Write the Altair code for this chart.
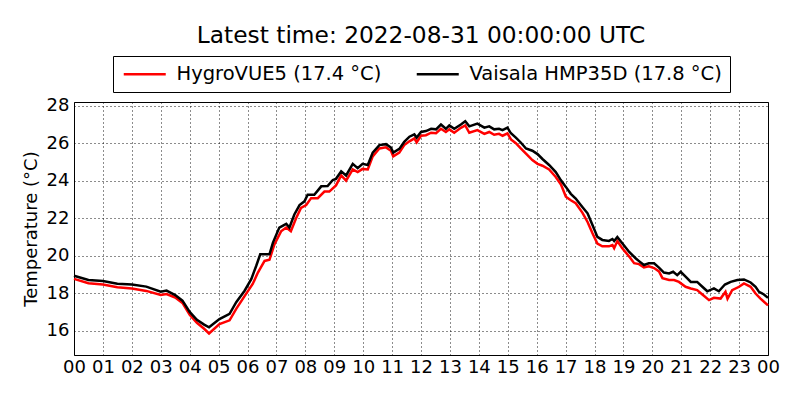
import altair as alt
import pandas as pd

title_text = "Latest time: 2022-08-31 00:00:00 UTC"
label_hygro = "HygroVUE5 (17.4 °C)"
label_vais = "Vaisala HMP35D (17.8 °C)"

vais_hours = [0, 0.5, 1, 1.5, 2, 2.5, 3, 3.2, 3.5, 3.75, 4, 4.25, 4.5, 4.67, 5.03, 5.38, 5.61, 5.9,
              6.13, 6.3, 6.44, 6.76, 6.88, 7.1, 7.34, 7.45, 7.62, 7.8, 7.97, 8.08, 8.31, 8.55, 8.77,
              8.95, 9.06, 9.24, 9.41, 9.64, 9.81, 9.98, 10.16, 10.33, 10.56, 10.79, 10.96, 11.04,
              11.25, 11.42, 11.6, 11.77, 11.85, 12.0, 12.17, 12.35, 12.52, 12.69, 12.86, 12.98,
              13.15, 13.38, 13.53, 13.67, 13.95, 14.19, 14.36, 14.53, 14.7, 14.82, 14.99, 15.11,
              15.28, 15.45, 15.63, 15.85, 16.03, 16.2, 16.43, 16.66, 16.84, 17.01, 17.18, 17.35,
              17.58, 17.76, 17.93, 18.1, 18.27, 18.5, 18.62, 18.68, 18.79, 18.96, 19.2, 19.43,
              19.54, 19.71, 19.88, 20.06, 20.23, 20.4, 20.58, 20.72, 20.86, 20.98, 21.15, 21.33,
              21.55, 21.73, 21.9, 22.13, 22.3, 22.51, 22.71, 22.94, 23.17, 23.4, 23.57, 23.69,
              23.86, 24.0]
vais_temp = [18.93, 18.7, 18.65, 18.5, 18.46, 18.35, 18.08, 18.14, 17.9, 17.6, 17.0, 16.58, 16.32,
             16.18, 16.62, 16.9, 17.52, 18.13, 18.75, 19.45, 20.07, 20.07, 20.7, 21.5, 21.7, 21.5,
             22.2, 22.7, 22.9, 23.25, 23.25, 23.7, 23.72, 24.04, 24.1, 24.5, 24.28, 24.9, 24.67,
             24.9, 24.84, 25.5, 25.9, 25.95, 25.77, 25.5, 25.7, 26.07, 26.35, 26.47, 26.3, 26.6,
             26.65, 26.77, 26.74, 27.0, 26.77, 26.95, 26.77, 27.0, 27.17, 26.9, 27.05, 26.83, 26.9,
             26.74, 26.77, 26.7, 26.83, 26.53, 26.3, 26.04, 25.72, 25.6, 25.42, 25.16, 24.84,
             24.46, 24.02, 23.67, 23.3, 23.05, 22.6, 22.26, 21.64, 21.0, 20.84, 20.79, 20.89,
             20.78, 21.0, 20.66, 20.2, 19.85, 19.71, 19.5, 19.59, 19.59, 19.36, 19.1, 19.05,
             19.14, 18.96, 19.14, 18.88, 18.6, 18.6, 18.34, 18.1, 18.25, 18.1, 18.46, 18.6, 18.7,
             18.73, 18.57, 18.34, 18.07, 17.93, 17.75]

hygro_hours = [0, 0.5, 1, 1.5, 2, 2.5, 3, 3.2, 3.5, 3.75, 4, 4.25, 4.5, 4.67, 5.03, 5.38, 5.61,
               5.95, 6.18, 6.36, 6.59, 6.76, 6.93, 7.16, 7.34, 7.5, 7.68, 7.85, 8.03, 8.2, 8.43,
               8.66, 8.83, 9.06, 9.24, 9.41, 9.64, 9.81, 9.98, 10.16, 10.33, 10.56, 10.79, 10.96,
               11.04, 11.25, 11.42, 11.6, 11.77, 11.85, 12.0, 12.17, 12.35, 12.52, 12.69, 12.86,
               12.98, 13.15, 13.38, 13.53, 13.67, 13.95, 14.19, 14.36, 14.53, 14.7, 14.82, 14.99,
               15.11, 15.28, 15.45, 15.63, 15.85, 16.03, 16.2, 16.43, 16.66, 16.84, 17.01, 17.18,
               17.35, 17.58, 17.76, 17.93, 18.1, 18.27, 18.5, 18.62, 18.68, 18.79, 18.96, 19.2,
               19.37, 19.54, 19.71, 19.88, 20.06, 20.23, 20.35, 20.58, 20.75, 20.92, 21.15, 21.33,
               21.55, 21.73, 21.96, 22.13, 22.36, 22.53, 22.6, 22.76, 23.0, 23.17, 23.4, 23.57,
               23.74, 24.0]
hygro_temp = [18.76, 18.53, 18.46, 18.32, 18.25, 18.12, 17.9, 17.95, 17.77, 17.48, 16.85, 16.42,
              16.1, 15.85, 16.35, 16.55, 17.16, 17.96, 18.49, 19.1, 19.72, 19.78, 20.6, 21.3, 21.5,
              21.3, 22.0, 22.55, 22.7, 23.07, 23.07, 23.42, 23.42, 23.75, 24.28, 24.0, 24.6, 24.46,
              24.63, 24.6, 25.3, 25.72, 25.78, 25.6, 25.3, 25.5, 25.9, 26.1, 26.26, 26.05, 26.4,
              26.43, 26.56, 26.53, 26.77, 26.6, 26.74, 26.56, 26.82, 26.95, 26.56, 26.7, 26.5,
              26.6, 26.45, 26.5, 26.4, 26.53, 26.2, 26.0, 25.72, 25.44, 25.1, 24.9, 24.8, 24.6,
              24.2, 23.8, 23.15, 22.96, 22.8, 22.3, 21.8, 21.2, 20.65, 20.5, 20.5, 20.57, 20.4,
              20.78, 20.4, 19.95, 19.6, 19.55, 19.37, 19.43, 19.34, 19.16, 18.8, 18.7, 18.7, 18.6,
              18.34, 18.25, 18.16, 17.93, 17.63, 17.75, 17.71, 18.07, 17.7, 18.16, 18.34, 18.52,
              18.34, 17.98, 17.71, 17.35]

x_ticks = list(range(0, 25))
y_ticks = [16, 18, 20, 22, 24, 26, 28]

assert len(vais_hours) == len(vais_temp)
assert len(hygro_hours) == len(hygro_temp)

df = pd.concat([
    pd.DataFrame({"hour": hygro_hours, "temp": hygro_temp, "sensor": label_hygro, "ord": 0}),
    pd.DataFrame({"hour": vais_hours, "temp": vais_temp, "sensor": label_vais, "ord": 1}),
], ignore_index=True)

FONT = "DejaVu Sans"

color_scale = alt.Scale(domain=[label_hygro, label_vais], range=["#ff0000", "#000000"])

base = alt.Chart(df).mark_line(strokeWidth=2.5).encode(
    x=alt.X("hour:Q",
            scale=alt.Scale(domain=[0, 24], nice=False, zero=False),
            axis=alt.Axis(values=x_ticks, title=None,
                          labelExpr="(datum.value % 24 < 10 ? '0' : '') + (datum.value % 24)",
                          labelFlush=False, labelOverlap=False, labelBound=False,
                          labelPadding=3)),
    y=alt.Y("temp:Q",
            scale=alt.Scale(domain=[14.7, 28.2], nice=False, zero=False),
            axis=alt.Axis(values=y_ticks, title="Temperature (°C)", labelPadding=5,
                          titlePadding=6)),
    color=alt.Color("sensor:N", scale=color_scale, sort=[label_hygro, label_vais],
                    legend=alt.Legend(title=None, orient="none", direction="horizontal",
                                      legendX=39, legendY=-46,
                                      symbolType="M-3,0H3", symbolSize=196,
                                      symbolStrokeWidth=2.5, symbolOffset=14,
                                      labelOffset=22, columnPadding=29, labelLimit=0,
                                      labelFontSize=19.5, labelFont=FONT, labelColor="black",
                                      padding=8, strokeColor="black", fillColor="white",
                                      cornerRadius=0)),
)

red = base.transform_filter(alt.datum.ord == 0)
black = base.transform_filter(alt.datum.ord == 1)

chart = alt.layer(red, black).properties(
    width=694, height=253,
    title=alt.TitleParams(title_text, fontSize=23.3, font=FONT, fontWeight="normal",
                          anchor="middle", offset=-11, baseline="alphabetic", color="black"),
    autosize="none",
    padding={"left": 66, "top": 94, "right": 24, "bottom": 37},
).configure_view(
    stroke="black", strokeWidth=1
).configure_axis(
    labelFont=FONT, labelFontSize=18, labelColor="black",
    titleFont=FONT, titleFontSize=18, titleFontWeight="normal", titleColor="black",
    domain=False, ticks=False,
    grid=True, gridColor="black", gridDash=[1, 3], gridWidth=1, gridOpacity=0.9,
)

chart.save("out.html", embed_options={"renderer": "svg", "actions": False})
